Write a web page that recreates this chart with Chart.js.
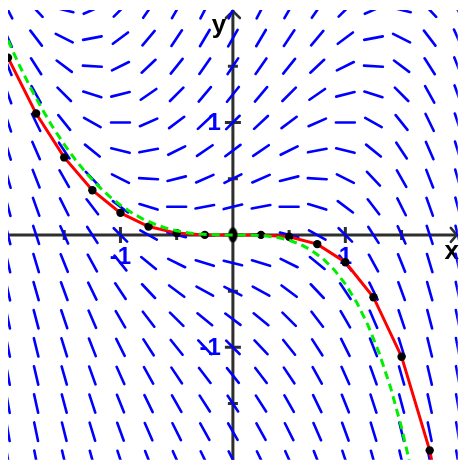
<!DOCTYPE html>
<html>
<head>
<meta charset="utf-8">
<script src="https://cdn.jsdelivr.net/npm/chart.js@4.4.1/dist/chart.umd.min.js"></script>
<style>
html,body{margin:0;padding:0;background:#fff;overflow:hidden;}
#wrap{position:absolute;left:0;top:0;width:462px;height:464px;}
</style>
</head>
<body>
<div id="wrap"><canvas id="c"></canvas></div>
<script>
// Slope-field grid (x columns, y rows top to bottom)
const gridX = [-2,-1.75,-1.5,-1.25,-1,-0.75,-0.5,-0.25,0,0.25,0.5,0.75,1,1.25,1.5,1.75,2];
const gridY = [2,1.75,1.5,1.25,1,0.75,0.5,0.25,0,-0.25,-0.5,-0.75,-1,-1.25,-1.5,-1.75,-2];
// slopes read per row (one row per gridY entry)
const slopeRows = [
 [-2,-1.06,-0.25,0.44,1,1.44,1.75,1.94,2,1.94,1.75,1.44,1,0.44,-0.25,-1.06,-2],
 [-2.25,-1.31,-0.5,0.19,0.75,1.19,1.5,1.69,1.75,1.69,1.5,1.19,0.75,0.19,-0.5,-1.31,-2.25],
 [-2.5,-1.56,-0.75,-0.06,0.5,0.94,1.25,1.44,1.5,1.44,1.25,0.94,0.5,-0.06,-0.75,-1.56,-2.5],
 [-2.75,-1.81,-1,-0.31,0.25,0.69,1,1.19,1.25,1.19,1,0.69,0.25,-0.31,-1,-1.81,-2.75],
 [-3,-2.06,-1.25,-0.56,0,0.44,0.75,0.94,1,0.94,0.75,0.44,0,-0.56,-1.25,-2.06,-3],
 [-3.25,-2.31,-1.5,-0.81,-0.25,0.19,0.5,0.69,0.75,0.69,0.5,0.19,-0.25,-0.81,-1.5,-2.31,-3.25],
 [-3.5,-2.56,-1.75,-1.06,-0.5,-0.06,0.25,0.44,0.5,0.44,0.25,-0.06,-0.5,-1.06,-1.75,-2.56,-3.5],
 [-3.75,-2.81,-2,-1.31,-0.75,-0.31,0,0.19,0.25,0.19,0,-0.31,-0.75,-1.31,-2,-2.81,-3.75],
 [-4,-3.06,-2.25,-1.56,-1,-0.56,-0.25,-0.06,0,-0.06,-0.25,-0.56,-1,-1.56,-2.25,-3.06,-4],
 [-4.25,-3.31,-2.5,-1.81,-1.25,-0.81,-0.5,-0.31,-0.25,-0.31,-0.5,-0.81,-1.25,-1.81,-2.5,-3.31,-4.25],
 [-4.5,-3.56,-2.75,-2.06,-1.5,-1.06,-0.75,-0.56,-0.5,-0.56,-0.75,-1.06,-1.5,-2.06,-2.75,-3.56,-4.5],
 [-4.75,-3.81,-3,-2.31,-1.75,-1.31,-1,-0.81,-0.75,-0.81,-1,-1.31,-1.75,-2.31,-3,-3.81,-4.75],
 [-5,-4.06,-3.25,-2.56,-2,-1.56,-1.25,-1.06,-1,-1.06,-1.25,-1.56,-2,-2.56,-3.25,-4.06,-5],
 [-5.25,-4.31,-3.5,-2.81,-2.25,-1.81,-1.5,-1.31,-1.25,-1.31,-1.5,-1.81,-2.25,-2.81,-3.5,-4.31,-5.25],
 [-5.5,-4.56,-3.75,-3.06,-2.5,-2.06,-1.75,-1.56,-1.5,-1.56,-1.75,-2.06,-2.5,-3.06,-3.75,-4.56,-5.5],
 [-5.75,-4.81,-4,-3.31,-2.75,-2.31,-2,-1.81,-1.75,-1.81,-2,-2.31,-2.75,-3.31,-4,-4.81,-5.75],
 [-6,-5.06,-4.25,-3.56,-3,-2.56,-2.25,-2.06,-2,-2.06,-2.25,-2.56,-3,-3.56,-4.25,-5.06,-6]
];
// Red polygon with black dots (step 0.25)
const eulerX = [-2,-1.75,-1.5,-1.25,-1,-0.75,-0.5,-0.25,0,0.25,0.5,0.75,1,1.25,1.5,1.75,2];
const eulerY = [1.575,1.079,0.689,0.397,0.196,0.074,0.016,0,0,0,-0.016,-0.082,-0.243,-0.554,-1.083,-1.916,-3.161];
// Green dashed curve
const curveX = [-2,-1.9,-1.8,-1.7,-1.6,-1.5,-1.4,-1.3,-1.2,-1.1,-1,-0.9,-0.8,-0.7,-0.6,-0.5,-0.4,-0.3,-0.2,-0.1,0,0.1,0.2,0.3,0.4,0.5,0.6,0.7,0.8,0.9,1,1.1,1.2,1.3,1.4,1.5,1.6];
const curveY = [1.729,1.511,1.309,1.125,0.956,0.804,0.667,0.545,0.438,0.344,0.264,0.197,0.141,0.097,0.062,0.037,0.019,0.008,0.0025,0.0003,0,-0.0003,-0.0028,-0.0097,-0.0237,-0.047,-0.084,-0.138,-0.211,-0.309,-0.437,-0.598,-0.800,-1.049,-1.350,-1.713,-2.146];
// axis ticks and labels
const tickVals = [-1.5,-1,-0.5,0.5,1,1.5];
const labelVals = [-1,1];
const labelText = ['-1','1'];

const SEG_HALF = 0.084; // half segment length in data units
const fieldData = [];
gridY.forEach((yv, r) => {
  gridX.forEach((xv, c) => {
    const m = slopeRows[r][c];
    const dx = SEG_HALF / Math.sqrt(1 + m * m);
    fieldData.push({x: xv - dx, y: yv - m * dx});
    fieldData.push({x: xv + dx, y: yv + m * dx});
    fieldData.push({x: xv, y: null});
  });
});
const redData = eulerX.map((x, i) => ({x, y: eulerY[i]}));
const greenData = curveX.map((x, i) => ({x, y: curveY[i]}));

// elongated origin dot
const oval = document.createElement('canvas');
oval.width = 11; oval.height = 17;
{ const g = oval.getContext('2d'); g.fillStyle = '#000'; g.beginPath(); g.ellipse(5.5, 8.5, 4.6, 7.6, 0, 0, Math.PI * 2); g.fill(); }

const axesPlugin = {
  id: 'axesPlugin',
  beforeDatasetsDraw(chart) {
    const {ctx, chartArea: a, scales: {x, y}} = chart;
    const x0 = x.getPixelForValue(0), y0 = y.getPixelForValue(0);
    ctx.save();
    ctx.strokeStyle = '#2e2e2e';
    ctx.lineWidth = 3;
    ctx.lineCap = 'butt';
    ctx.beginPath();
    ctx.moveTo(a.left, y0); ctx.lineTo(a.right, y0);
    ctx.moveTo(x0, a.bottom); ctx.lineTo(x0, a.top);
    ctx.stroke();
    ctx.lineWidth = 2.5;
    ctx.lineCap = 'round';
    ctx.beginPath();
    ctx.moveTo(a.right - 7, y0 - 7); ctx.lineTo(a.right - 1, y0); ctx.lineTo(a.right - 7, y0 + 7);
    ctx.moveTo(x0 - 7, a.top + 8); ctx.lineTo(x0, a.top + 1); ctx.lineTo(x0 + 7, a.top + 8);
    ctx.stroke();
    ctx.lineWidth = 3;
    ctx.lineCap = 'butt';
    ctx.beginPath();
    tickVals.forEach(v => {
      const h = Number.isInteger(v) ? 8 : 5;
      const px = x.getPixelForValue(v), py = y.getPixelForValue(v);
      ctx.moveTo(px, y0 - h); ctx.lineTo(px, y0 + h);
      ctx.moveTo(x0 - h, py); ctx.lineTo(x0 + h, py);
    });
    ctx.stroke();
    ctx.fillStyle = '#0000ff';
    ctx.font = 'bold 24px "Liberation Sans", Arial, sans-serif';
    ctx.textAlign = 'center'; ctx.textBaseline = 'middle';
    labelVals.forEach((v, i) => {
      ctx.fillText(labelText[i], x.getPixelForValue(v), y0 + 22);
    });
    ctx.textAlign = 'right';
    labelVals.forEach((v, i) => {
      ctx.fillText(labelText[i], x0 - 12, y.getPixelForValue(v) + 1);
    });
    ctx.fillStyle = '#000';
    ctx.font = 'bold 26px "Liberation Sans", Arial, sans-serif';
    ctx.textAlign = 'center'; ctx.textBaseline = 'middle';
    ctx.fillText('y', x0 - 14, a.top + 16);
    ctx.fillText('x', a.right - 6, y0 + 17);
    ctx.restore();
  }
};

new Chart(document.getElementById('c'), {
  type: 'scatter',
  data: {
    datasets: [
      {data: greenData, showLine: true, borderColor: '#00ee00', borderWidth: 3, borderDash: [8, 5],
       pointRadius: 0, fill: false, clip: 0, order: 0, tension: 0},
      {data: redData, showLine: true, borderColor: '#ff0000', borderWidth: 3,
       pointRadius: 4.2, pointBackgroundColor: '#000', pointBorderColor: '#000', pointBorderWidth: 0,
       pointStyle: (ctx) => (ctx.dataIndex === 8 ? oval : 'circle'),
       fill: false, clip: 0, order: 1, tension: 0},
      {data: fieldData, showLine: true, spanGaps: false, borderColor: '#0000ff', borderWidth: 2.6,
       borderCapStyle: 'round', pointRadius: 0, fill: false, clip: 0, order: 2, tension: 0}
    ]
  },
  options: {
    responsive: true,
    maintainAspectRatio: false,
    animation: false,
    events: [],
    layout: {padding: {left: 8, top: 10, right: 0, bottom: 0}},
    plugins: {legend: {display: false}, tooltip: {enabled: false}},
    scales: {
      x: {type: 'linear', min: -2, max: 2, display: false},
      y: {type: 'linear', min: -2, max: 2, display: false}
    }
  },
  plugins: [axesPlugin]
});
</script>
</body>
</html>
